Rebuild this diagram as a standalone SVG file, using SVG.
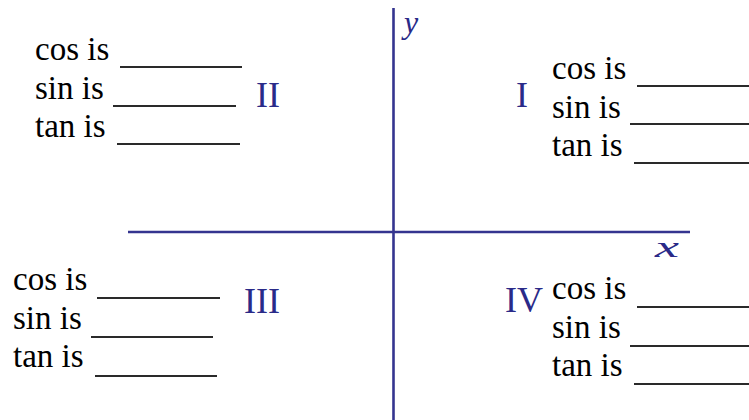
<svg xmlns="http://www.w3.org/2000/svg" width="749" height="420" viewBox="0 0 749 420">
<style>
.txt{font-size:33px;fill:#000}
.u{stroke:#2a2a2a;stroke-width:2}
.rn{font-size:36px;fill:#2a2a88}
.ax{stroke:#34348f;stroke-width:2.6}
.lab{font-style:italic;fill:#2a2a88}
</style>
<rect width="749" height="420" fill="#fff"/>
<g id="axes" font-family="Liberation Serif">
<line class="ax" x1="393.5" y1="8" x2="393.5" y2="420"/>
<line class="ax" x1="128" y1="232" x2="690" y2="232"/>
<text class="lab" x="404" y="33" font-size="32" font-family="Liberation Serif">y</text>
<text class="lab" x="655" y="257" font-size="30" font-family="Liberation Serif" textLength="24" lengthAdjust="spacingAndGlyphs">x</text>
</g>
<g id="q2" font-family="Liberation Serif">
<text class="txt" font-family="Liberation Serif" x="35" y="60">cos is</text><line class="u" x1="120" y1="67" x2="242" y2="67"/>
<text class="txt" font-family="Liberation Serif" x="35" y="99">sin is</text><line class="u" x1="113" y1="106" x2="236" y2="106"/>
<text class="txt" font-family="Liberation Serif" x="35" y="137">tan is</text><line class="u" x1="117" y1="144" x2="240" y2="144"/>
<text class="rn" font-family="Liberation Serif" x="256" y="107">II</text>
</g>
<g id="q1" font-family="Liberation Serif">
<text class="txt" font-family="Liberation Serif" x="552" y="79">cos is</text><line class="u" x1="637" y1="86" x2="749" y2="86"/>
<text class="txt" font-family="Liberation Serif" x="552" y="118">sin is</text><line class="u" x1="630" y1="124" x2="749" y2="124"/>
<text class="txt" font-family="Liberation Serif" x="552" y="156">tan is</text><line class="u" x1="634" y1="163" x2="749" y2="163"/>
<text class="rn" font-family="Liberation Serif" x="516" y="107">I</text>
</g>
<g id="q3" font-family="Liberation Serif">
<text class="txt" font-family="Liberation Serif" x="13" y="290">cos is</text><line class="u" x1="97" y1="298" x2="220" y2="298"/>
<text class="txt" font-family="Liberation Serif" x="13" y="329">sin is</text><line class="u" x1="91" y1="337" x2="213" y2="337"/>
<text class="txt" font-family="Liberation Serif" x="13" y="367">tan is</text><line class="u" x1="95" y1="376" x2="217" y2="376"/>
<text class="rn" font-family="Liberation Serif" x="244" y="313">III</text>
</g>
<g id="q4" font-family="Liberation Serif">
<text class="txt" font-family="Liberation Serif" x="552" y="299">cos is</text><line class="u" x1="637" y1="307" x2="749" y2="307"/>
<text class="txt" font-family="Liberation Serif" x="552" y="338">sin is</text><line class="u" x1="630" y1="346" x2="749" y2="346"/>
<text class="txt" font-family="Liberation Serif" x="552" y="376">tan is</text><line class="u" x1="634" y1="384" x2="749" y2="384"/>
<text class="rn" font-family="Liberation Serif" x="505" y="312">IV</text>
</g>
</svg>
